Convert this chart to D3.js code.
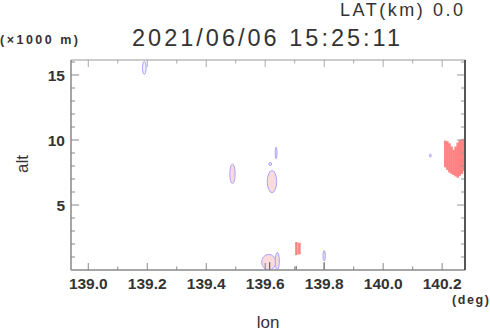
<!DOCTYPE html>
<html>
<head>
<meta charset="utf-8">
<script src="https://cdn.jsdelivr.net/npm/d3@7"></script>
<style>
  body { margin: 0; background: #fff; }
  svg { display: block; }
</style>
</head>
<body>
<svg id="chart"></svg>
<script>
// axis ticks
const lonTicks = [139.0, 139.2, 139.4, 139.6, 139.8, 140.0, 140.2];
const altTicks = [5, 10, 15];

// weak echo cells: centre lon/alt and half sizes
const cellLon = [139.190, 139.489, 139.623, 139.637, 139.617, 139.612, 139.641, 139.800, 140.160];
const cellAlt = [15.55, 7.4, 6.8, 9.0, 8.15, 0.6, 0.7, 1.1, 8.8];
const cellHalfLon = [0.006, 0.009, 0.016, 0.003, 0.005, 0.024, 0.007, 0.004, 0.003];
const cellHalfAlt = [0.5, 0.75, 0.85, 0.45, 0.12, 0.6, 0.65, 0.4, 0.12];

// strong echo columns
const colLon = [139.705, 139.715, 140.210, 140.217, 140.224, 140.231, 140.238, 140.245, 140.252, 140.259, 140.266, 140.273];
const colBase = [1.15, 1.2, 7.9, 7.7, 7.5, 7.4, 7.3, 7.2, 7.1, 7.25, 7.4, 7.6];
const colTop = [2.15, 2.1, 9.95, 9.9, 9.75, 9.5, 9.25, 9.5, 9.8, 10.0, 10.05, 10.1];

// ground stubs
const groundLon = [139.615, 139.705, 139.800];
const groundTop = [0.6, 0.3, 0.6];

function drawChart(){
    let config = chartConfig();
    let scales = chartScales(config);
    drawEchoes(scales, config);
    drawFrame(scales, config);
    drawTexts(config);
}

function chartConfig(){
    let width = 490;
    let height = 331;
    let margin = {top: 60, bottom: 61, left: 71, right: 25};
    let bodyWidth = width - margin.left - margin.right;
    let bodyHeight = height - margin.top - margin.bottom;
    let container = d3.select("#chart")
        .attr("width", width)
        .attr("height", height);
    return {width, height, margin, bodyWidth, bodyHeight, container};
}

function chartScales(config){
    let {margin, bodyWidth, bodyHeight} = config;
    let xScale = d3.scaleLinear()
        .domain([138.9414, 140.2775])
        .range([margin.left, margin.left + bodyWidth]);
    let yScale = d3.scaleLinear()
        .domain([0, 16.154])
        .range([margin.top + bodyHeight, margin.top]);
    return {xScale, yScale};
}

function drawEchoes(scales, config){
    let {xScale, yScale} = scales;
    let {container, margin, bodyWidth, bodyHeight} = config;

    let defs = container.append("defs");
    defs.append("clipPath").attr("id", "plotClip")
        .append("rect")
        .attr("x", margin.left).attr("y", margin.top)
        .attr("width", bodyWidth).attr("height", bodyHeight);
    defs.append("filter").attr("id", "soft")
        .append("feGaussianBlur").attr("stdDeviation", 0.6);

    let body = container.append("g")
        .attr("clip-path", "url(#plotClip)")
        .attr("filter", "url(#soft)");

    let cells = d3.range(cellLon.length).map(i => ({
        lon: cellLon[i], alt: cellAlt[i], dl: cellHalfLon[i], da: cellHalfAlt[i]
    }));
    body.selectAll(".cell").data(cells).enter().append("ellipse")
        .attr("cx", d => xScale(d.lon))
        .attr("cy", d => yScale(d.alt))
        .attr("rx", d => xScale(d.lon + d.dl) - xScale(d.lon))
        .attr("ry", d => yScale(d.alt) - yScale(d.alt + d.da))
        .attr("fill", d => d.alt > 15 ? "#eef0ff" : "#fadada")
        .attr("stroke", "#a4a4ff")
        .attr("stroke-width", 1);

    let cols = d3.range(colLon.length).map(i => ({
        lon: colLon[i], base: colBase[i], top: colTop[i]
    }));
    let step = xScale(140.007) - xScale(140.0);
    body.selectAll(".col").data(cols).enter().append("rect")
        .attr("x", d => xScale(d.lon) - step / 2)
        .attr("y", d => yScale(d.top))
        .attr("width", step + 0.5)
        .attr("height", d => yScale(d.base) - yScale(d.top))
        .attr("fill", "#ff8282");

    body.selectAll(".ground").data(groundLon).enter().append("line")
        .attr("x1", d => xScale(d)).attr("x2", d => xScale(d))
        .attr("y1", yScale(0))
        .attr("y2", (d, i) => yScale(groundTop[i]))
        .attr("stroke", "#666")
        .attr("stroke-width", 1.2);
}

function drawFrame(scales, config){
    let {xScale, yScale} = scales;
    let {container, margin, bodyWidth, bodyHeight} = config;
    let x0 = margin.left, x1 = margin.left + bodyWidth;
    let y0 = margin.top, y1 = margin.top + bodyHeight;
    let g = container.append("g");

    let minorLon = d3.range(1390, 1403).map(v => v / 10);
    let minorAlt = d3.range(1, 17);

    // bottom and top ticks point inward
    g.selectAll(".xt").data(minorLon).enter().append("line")
        .attr("x1", d => xScale(d)).attr("x2", d => xScale(d))
        .attr("y1", y1)
        .attr("y2", (d, i) => y1 - (i % 2 === 0 ? 7 : 3.5))
        .attr("stroke", "#888");
    g.selectAll(".xtt").data(minorLon).enter().append("line")
        .attr("x1", d => xScale(d)).attr("x2", d => xScale(d))
        .attr("y1", y0)
        .attr("y2", (d, i) => y0 + (i % 2 === 0 ? 7 : 3.5))
        .attr("stroke", "#aaa");
    g.selectAll(".yt").data(minorAlt).enter().append("line")
        .attr("x1", x0)
        .attr("x2", d => x0 + (d % 5 === 0 ? 8 : 4))
        .attr("y1", d => yScale(d)).attr("y2", d => yScale(d))
        .attr("stroke", "#888");
    g.selectAll(".ytr").data(minorAlt).enter().append("line")
        .attr("x1", x1)
        .attr("x2", d => x1 - (d % 5 === 0 ? 8 : 4))
        .attr("y1", d => yScale(d)).attr("y2", d => yScale(d))
        .attr("stroke", "#999");

    g.append("line").attr("x1", x0).attr("x2", x1).attr("y1", y0).attr("y2", y0)
        .attr("stroke", "#999").attr("stroke-width", 1.2);
    g.append("line").attr("x1", x0).attr("x2", x1).attr("y1", y1).attr("y2", y1)
        .attr("stroke", "#888").attr("stroke-width", 1.5);
    g.append("line").attr("x1", x0).attr("x2", x0).attr("y1", y0).attr("y2", y1)
        .attr("stroke", "#888").attr("stroke-width", 1.5);
    g.append("line").attr("x1", x1).attr("x2", x1).attr("y1", y0).attr("y2", y1)
        .attr("stroke", "#555").attr("stroke-width", 2);

    g.selectAll(".xl").data(lonTicks).enter().append("text")
        .attr("x", d => xScale(d))
        .attr("y", 288.5)
        .attr("text-anchor", "middle")
        .attr("font-family", "Liberation Sans, Arial, sans-serif")
        .attr("font-weight", "bold")
        .attr("font-size", 15.5)
        .attr("fill", "#333")
        .text(d => d.toFixed(1));
    g.selectAll(".yl").data(altTicks).enter().append("text")
        .attr("x", 65)
        .attr("y", d => yScale(d) + 5.5)
        .attr("text-anchor", "end")
        .attr("font-family", "Liberation Sans, Arial, sans-serif")
        .attr("font-weight", "bold")
        .attr("font-size", 15.5)
        .attr("fill", "#333")
        .text(d => d);
}

function drawTexts(config){
    let {container} = config;
    let font = "Liberation Sans, Arial, sans-serif";
    container.append("text")
        .attr("x", 340).attr("y", 16)
        .attr("font-family", font).attr("font-size", 18).attr("fill", "#333")
        .attr("textLength", 123).attr("lengthAdjust", "spacing")
        .text("LAT(km) 0.0");
    container.append("text")
        .attr("x", 132).attr("y", 46)
        .attr("font-family", font).attr("font-size", 23.5).attr("fill", "#333")
        .attr("textLength", 268).attr("lengthAdjust", "spacing")
        .text("2021/06/06 15:25:11");
    container.append("text")
        .attr("x", 0).attr("y", 43.5)
        .attr("font-family", font).attr("font-size", 12.5).attr("font-weight", "bold")
        .attr("fill", "#333")
        .attr("textLength", 78).attr("lengthAdjust", "spacing")
        .text("(\u00d71000 m)");
    container.append("text")
        .attr("x", 452).attr("y", 304)
        .attr("font-family", font).attr("font-size", 12.5).attr("font-weight", "bold")
        .attr("fill", "#333")
        .attr("textLength", 37).attr("lengthAdjust", "spacing")
        .text("(deg)");
    container.append("text")
        .attr("x", 268).attr("y", 328)
        .attr("text-anchor", "middle")
        .attr("font-family", font).attr("font-size", 17).attr("fill", "#333")
        .text("lon");
    container.append("text")
        .attr("transform", "translate(28,164) rotate(-90)")
        .attr("text-anchor", "middle")
        .attr("font-family", font).attr("font-size", 17).attr("fill", "#333")
        .text("alt");
}

drawChart();
</script>
</body>
</html>
